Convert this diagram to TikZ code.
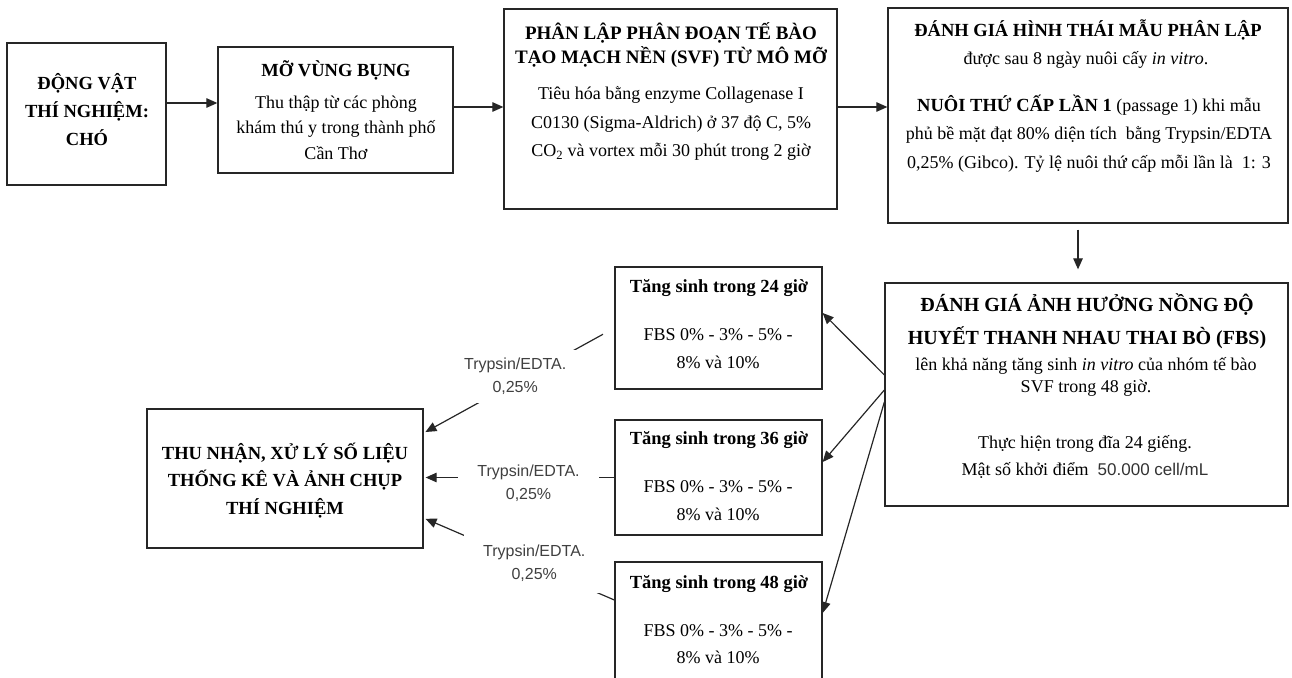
\documentclass[tikz,border=0pt]{standalone}
\usepackage{fontspec}
\setmainfont{Liberation Serif}
\newfontfamily\sansf{Liberation Sans}
\usetikzlibrary{arrows.meta}
\newcommand\myfs[2]{\fontsize{#1}{#2}\selectfont}
\tikzset{
  box/.style={draw=black!85, line width=1.3pt, inner sep=0pt},
  txt/.style={align=center, inner sep=0pt, font=\myfs{18}{28}},
  ttl/.style={align=center, inner sep=0pt, font=\myfs{18.5}{25}\bfseries},
  arr/.style={draw=black!85, line width=1.2pt, -{Triangle[length=11pt,width=9.5pt]}},
  lbl/.style={fill=white, align=center, inner xsep=16pt, inner ysep=4pt, text=black!75, font=\sansf\myfs{16}{23}},
}
\begin{document}
\begin{tikzpicture}[x=1pt,y=-1pt]
\useasboundingbox (0,0) rectangle (1292,677);
\clip (0,0) rectangle (1292,677);
% boxes
\node[box, minimum width=159pt, minimum height=142pt] (b1) at (86.5,114) {};
\node[box, minimum width=235pt, minimum height=126pt] (b2) at (335.5,110) {};
\node[box, minimum width=333pt, minimum height=200pt] (b3) at (670.5,109) {};
\node[box, minimum width=400pt, minimum height=215pt] (b4) at (1088,115.5) {};
\node[box, minimum width=403pt, minimum height=223pt] (b5) at (1086.5,394.5) {};
\node[box, minimum width=207pt, minimum height=122pt] (b24) at (718.5,328) {};
\node[box, minimum width=207pt, minimum height=115pt] (b36) at (718.5,477.5) {};
\node[box, minimum width=207pt, minimum height=120pt] (b48) at (718.5,622) {};
\node[box, minimum width=276pt, minimum height=139pt] (thu) at (285,478.5) {};
% texts
\node[ttl, font=\myfs{18.5}{28}\bfseries] (t1) at (87,110) {ĐỘNG VẬT\\THÍ NGHIỆM:\\CHÓ};
\node[ttl] (t2a) at (336,70) {MỠ VÙNG BỤNG};
\node[txt, font=\myfs{18}{25.5}] (t2b) at (336,127.5) {Thu thập từ các phòng\\khám thú y trong thành phố\\Cần Thơ};
\node[ttl, font=\myfs{19}{24}\bfseries] (t3a) at (671,45) {PHÂN LẬP PHÂN ĐOẠN TẾ BÀO\\TẠO MẠCH NỀN (SVF) TỪ MÔ MỠ};
\node[txt, font=\myfs{18}{28.5}] (t3b) at (671,123.5) {Tiêu hóa bằng enzyme Collagenase I\\C0130 (Sigma-Aldrich) ở 37 độ C, 5\%\\CO\textsubscript{2} và vortex mỗi 30 phút trong 2 giờ};
\node[ttl] (t4a) at (1088,30) {ĐÁNH GIÁ HÌNH THÁI MẪU PHÂN LẬP};
\node[txt] (t4b) at (1086,60) {được sau 8 ngày nuôi cấy \textit{in vitro}.};
\node[txt, font=\myfs{18}{28.5}] (t4c) at (1089,133.5) {\textbf{\myfs{18.5}{28.5}NUÔI THỨ CẤP LẦN 1} (passage 1) khi mẫu\\phủ bề mặt đạt 80\% diện tích\ \ bằng Trypsin/EDTA\\0,25\% (Gibco). Tỷ lệ nuôi thứ cấp mỗi lần là \ 1: 3};
\node[ttl, font=\myfs{20}{33}\bfseries] (t5a) at (1087,321.5) {ĐÁNH GIÁ ẢNH HƯỞNG NỒNG ĐỘ\\HUYẾT THANH NHAU THAI BÒ (FBS)};
\node[txt, font=\myfs{18}{21.5}] (t5b) at (1086,377) {lên khả năng tăng sinh \textit{in vitro} của nhóm tế bào\\SVF trong 48 giờ.};
\node[txt, font=\myfs{18}{27}] (t5c) at (1085,456.5) {Thực hiện trong đĩa 24 giếng.\\Mật số khởi điểm \ {\sansf\myfs{17}{27}\color{black!80}50.000 cell/mL}};
\node[ttl] (t24a) at (719,288) {Tăng sinh trong 24 giờ};
\node[txt] (t24b) at (718,349) {FBS 0\% - 3\% - 5\% -\\8\% và 10\%};
\node[ttl] (t36a) at (719,440) {Tăng sinh trong 36 giờ};
\node[txt] (t36b) at (718,501) {FBS 0\% - 3\% - 5\% -\\8\% và 10\%};
\node[ttl] (t48a) at (719,584) {Tăng sinh trong 48 giờ};
\node[txt, font=\myfs{18}{27}] (t48b) at (718,644.5) {FBS 0\% - 3\% - 5\% -\\8\% và 10\%};
\node[ttl, font=\myfs{18.5}{27.5}\bfseries] (tt) at (285,480.5) {THU NHẬN, XỬ LÝ SỐ LIỆU\\THỐNG KÊ VÀ ẢNH CHỤP\\THÍ NGHIỆM};
% top connectors
\coordinate (p12) at ([yshift=7pt]b2.west);
\draw[arr] (b1.east |- p12) -- (p12);
\coordinate (p23) at ([yshift=2pt]b3.west);
\draw[arr] (b2.east |- p23) -- (p23);
\coordinate (p34) at ([yshift=8.5pt]b4.west);
\draw[arr] (b3.east |- p34) -- (p34);
\coordinate (p45) at ([xshift=-10pt]b4.south);
\draw[arr, shorten <=6pt, shorten >=13pt] (p45) -- (p45 |- b5.north);
% right connectors
\draw[arr] ([yshift=19.5pt]b5.west) -- ([yshift=15pt]b24.east);
\draw[arr] ([yshift=4.5pt]b5.west) -- ([yshift=15.5pt]b36.east);
\draw[arr] ([yshift=-7.5pt]b5.west) -- ([yshift=9pt]b48.east);
% left connectors
\draw[arr, shorten <=13pt, shorten >=2pt] (b24.west) -- node[lbl, pos=0.52, yshift=6pt, inner ysep=8pt, inner xsep=18pt] (l1) {Trypsin/EDTA.\\0,25\%} ([yshift=45.5pt]thu.east);
\draw[arr, shorten >=2pt] (b36.west) -- node[lbl, pos=0.45, yshift=-5.5pt, inner xsep=19pt] (l2) {Trypsin/EDTA.\\0,25\%} (b36.west -| thu.east);
\draw[arr, shorten >=2pt] ([yshift=22pt]b48.west) -- node[lbl, pos=0.42, yshift=2pt, inner ysep=11pt, inner xsep=19pt] (l3) {Trypsin/EDTA.\\0,25\%} ([yshift=-39.5pt]thu.east);
\end{tikzpicture}
\end{document}
